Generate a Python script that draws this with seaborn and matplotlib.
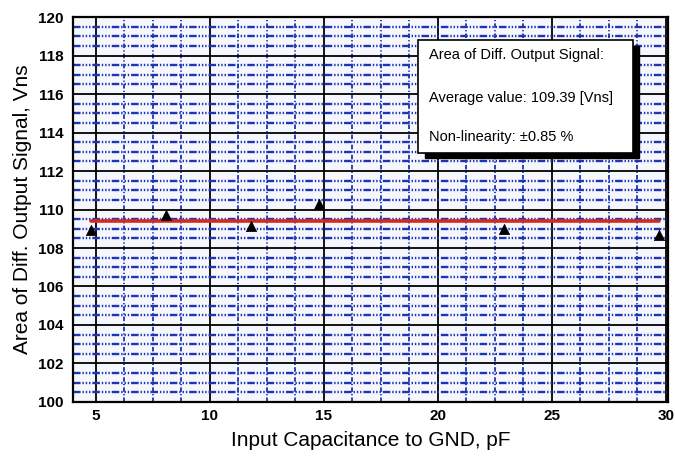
import matplotlib
matplotlib.use("Agg")
import matplotlib.pyplot as plt
from matplotlib.ticker import MultipleLocator
from matplotlib.patches import Rectangle
import seaborn as sns
import pandas as pd

# Data
capacitance_pf = [4.8, 8.1, 11.8, 14.8, 22.9, 29.7]
area_vns = [108.95, 109.72, 109.12, 110.28, 108.98, 108.65]
average_value = 109.39
nonlinearity_pct = 0.85

x_ticks = [5, 10, 15, 20, 25, 30]
y_ticks = [100, 102, 104, 106, 108, 110, 112, 114, 116, 118, 120]

sns.set_theme(style="white")
plt.rcParams['font.family'] = ['Liberation Sans', 'DejaVu Sans']
plt.rcParams['text.color'] = 'black'
plt.rcParams['axes.labelcolor'] = 'black'
plt.rcParams['xtick.color'] = 'black'
plt.rcParams['ytick.color'] = 'black'

df = pd.DataFrame({"cap": capacitance_pf, "area": area_vns})
avg_df = pd.DataFrame({"cap": [capacitance_pf[0], capacitance_pf[-1]],
                       "area": [average_value, average_value]})

fig = plt.figure(figsize=(6.75, 4.62), dpi=100)
ax = fig.add_axes([0.108, 0.13, 0.882, 0.833])
ax.set_facecolor("#f5f7fd")

ax.set_xlim(4, 30.1)
ax.set_ylim(100, 120)
ax.xaxis.set_major_locator(MultipleLocator(5))
ax.xaxis.set_minor_locator(MultipleLocator(1.25))
ax.yaxis.set_major_locator(MultipleLocator(2))
ax.yaxis.set_minor_locator(MultipleLocator(0.5))

blue = "#1f34b0"
ax.grid(which="minor", axis="y", color=blue, linewidth=1.7,
        linestyle=(0, (3.2, 0.8, 0.6, 0.8, 0.6, 0.8, 0.6, 0.8)), zorder=0)
ax.grid(which="minor", axis="x", color=blue, linewidth=1.3,
        linestyle=(0, (2.5, 1.2, 0.7, 1.2)), zorder=0)
ax.grid(which="major", color="black", linewidth=1.3, linestyle="-", zorder=1)
ax.set_axisbelow(True)

sns.lineplot(data=avg_df, x="cap", y="area", ax=ax, color="#d42a1e",
             linewidth=2.6, zorder=3)
sns.scatterplot(data=df, x="cap", y="area", ax=ax, marker="^", color="black",
                s=55, edgecolor="black", linewidth=0.5, zorder=4)

ax.set_xticks(x_ticks)
ax.set_yticks(y_ticks)
ax.set_xticklabels([str(v) for v in x_ticks], fontweight="bold", fontsize=11)
ax.set_yticklabels([str(v) for v in y_ticks], fontweight="bold", fontsize=11)
ax.tick_params(axis="x", which="both", length=0, pad=5, labelcolor="black")
ax.tick_params(axis="y", which="both", length=0, pad=7, labelcolor="black")

ax.set_xlabel("Input Capacitance to GND, pF", fontsize=15, labelpad=6, color="black")
ax.set_ylabel("Area of Diff. Output Signal, Vns", fontsize=15, labelpad=4, color="black")

for s in ax.spines.values():
    s.set_color("black")
    s.set_linewidth(1.6)

# Info box with shadow
bx0, by0, bw, bh = 0.58, 0.647, 0.36, 0.293
ax.add_patch(Rectangle((bx0 + 0.011, by0 - 0.014), bw, bh, transform=ax.transAxes,
                       facecolor="black", edgecolor="black", zorder=5))
ax.add_patch(Rectangle((bx0, by0), bw, bh, transform=ax.transAxes,
                       facecolor="white", edgecolor="black", linewidth=1.2, zorder=6))
tx = 0.598
ax.text(tx, 0.901, "Area of Diff. Output Signal:", transform=ax.transAxes,
        fontsize=10.5, va="center", ha="left", zorder=7, color="black")
ax.text(tx, 0.790, f"Average value: {average_value:.2f} [Vns]", transform=ax.transAxes,
        fontsize=10.5, va="center", ha="left", zorder=7, color="black")
ax.text(tx, 0.688, f"Non-linearity: \u00b1{nonlinearity_pct:.2f} %", transform=ax.transAxes,
        fontsize=10.5, va="center", ha="left", zorder=7, color="black")

fig.savefig("out.png", dpi=100)
